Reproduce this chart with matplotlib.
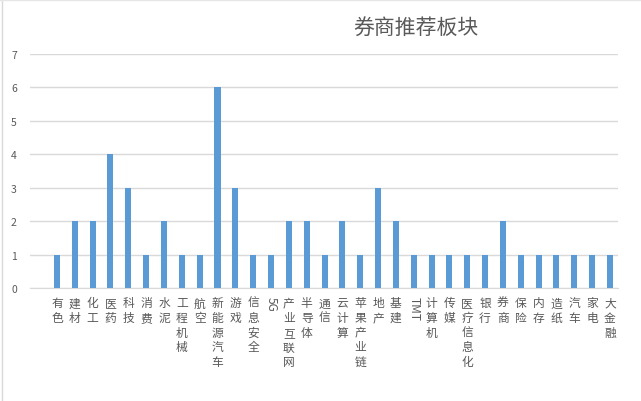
import matplotlib
matplotlib.use('Agg')
import matplotlib.pyplot as plt

plt.rcParams['font.family'] = ['Noto Sans CJK SC', 'DejaVu Sans']

# sectors and how many brokers recommend them
sectors = ['有色', '建材', '化工', '医药', '科技', '消费', '水泥', '工程机械', '航空',
           '新能源汽车', '游戏', '信息安全', '5G', '产业互联网', '半导体', '通信',
           '云计算', '苹果产业链', '地产', '基建', 'TMT', '计算机', '传媒',
           '医疗信息化', '银行', '券商', '保险', '内存', '造纸', '汽车', '家电', '大金融']
counts = [1, 2, 2, 4, 3, 1, 2, 1, 1, 6, 3, 1, 1, 2, 2, 1,
          2, 1, 3, 2, 1, 1, 1, 1, 1, 2, 1, 1, 1, 1, 1, 1]
yticks = [0, 1, 2, 3, 4, 5, 6, 7]

W, H = 641, 402
fig = plt.figure(figsize=(W/100, H/100), dpi=100)
ax = fig.add_axes([30/W, (H-289)/H, (618-30)/W, (289-55)/H])

x = list(range(len(sectors)))
ax.bar(x, counts, width=0.34, color='#5B9BD5', zorder=3)

ax.set_ylim(0, 7)
ax.set_xlim(-1.51, 31.45)
ax.set_yticks(yticks)
ax.yaxis.grid(True, color='#D9D9D9', lw=1.0, zorder=0)
for s in ['top', 'right', 'left']:
    ax.spines[s].set_visible(False)
ax.spines['bottom'].set_color('#D9D9D9')
ax.tick_params(axis='y', length=0, pad=9.5, labelsize=7.5, labelcolor='#595959')
ax.tick_params(axis='x', length=0, pad=6.0)

ax.set_xticks(x)
labels = []
for name in sectors:
    if name.isascii():
        labels.append(name)
    else:
        labels.append('\n'.join(name))
ax.set_xticklabels(labels, fontsize=8.5, color='#595959', linespacing=1.17)
for t, name in zip(ax.get_xticklabels(), sectors):
    if name.isascii():
        t.set_rotation(-90)

fig.text(416/W, 1-28/H, '券商推荐板块', ha='center', va='center',
         fontsize=15, color='#595959')

# faint chart border on the left
fig.add_artist(plt.Line2D([2/W, 2/W], [0, 1], color='#D9D9D9', lw=1))
fig.add_artist(plt.Line2D([0, 1], [1-1/H, 1-1/H], color='#E6E6E6', lw=1))

fig.savefig('out.png', dpi=100)
